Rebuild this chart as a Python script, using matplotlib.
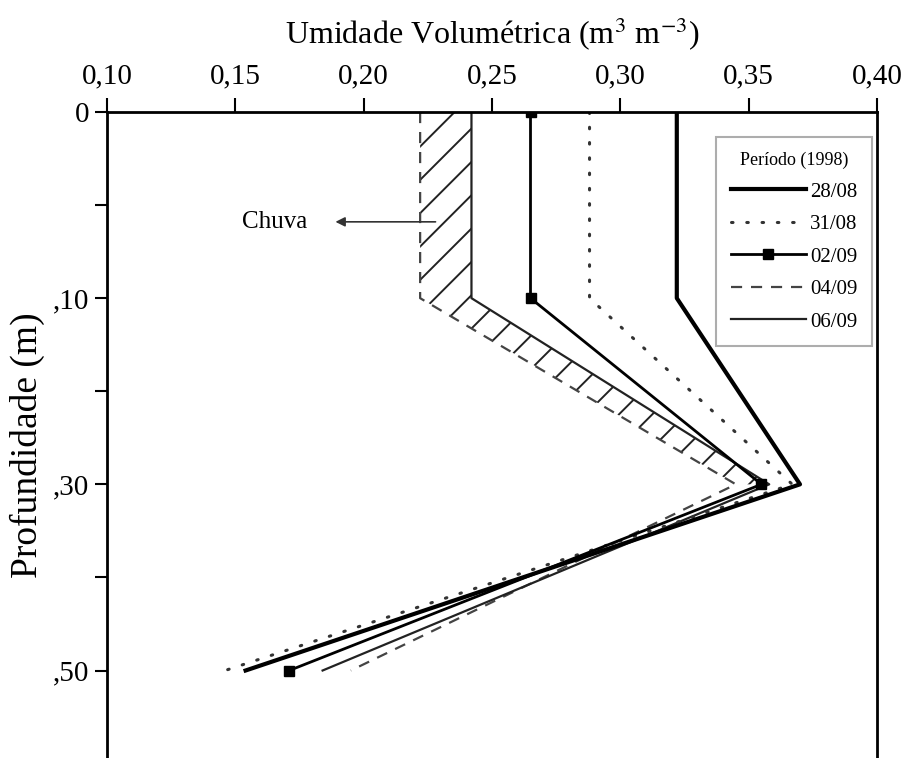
import matplotlib
matplotlib.use("Agg")
import matplotlib.pyplot as plt
from matplotlib.ticker import FixedLocator

plt.rcParams['font.family'] = ['Liberation Serif', 'DejaVu Serif']
plt.rcParams['mathtext.fontset'] = 'stix'
plt.rcParams['hatch.linewidth'] = 1.4

# ---- data ----
depth_labels = ["0", ",10", ",30", ",50"]
x_ticks = [0.10, 0.15, 0.20, 0.25, 0.30, 0.35, 0.40]
x_tick_labels = ["0,10", "0,15", "0,20", "0,25", "0,30", "0,35", "0,40"]
periods = ["28/08", "31/08", "02/09", "04/09", "06/09"]
s_2808 = [0.322, 0.322, 0.370, 0.154]
s_3108 = [0.288, 0.288, 0.367, 0.146]
s_0209 = [0.265, 0.265, 0.355, 0.171]
s_0409 = [0.222, 0.222, 0.345, 0.195]
s_0609 = [0.242, 0.242, 0.358, 0.184]
rain_depth_count = 3  # rain band covers 0 to ,30

pos = list(range(len(depth_labels)))

fig = plt.figure(figsize=(9.09, 7.58), dpi=100)
ax = fig.add_axes([107/909, 0.0, (877-107)/909, 1 - 112/758])

# rain hatch between 04/09 and 06/09
ax.fill_betweenx(pos[:rain_depth_count], s_0409[:rain_depth_count], s_0609[:rain_depth_count],
                 facecolor='none', edgecolor='#222222', hatch='/', linewidth=0)

ax.plot(s_0409, pos, color='#444444', lw=1.6, linestyle=(0, (5, 4)), label=periods[3])
ax.plot(s_0609, pos, color='#222222', lw=1.6, label=periods[4])
ax.plot(s_3108, pos, color='#333333', lw=2.2, linestyle=(0, (0.5, 4.5)),
        dash_capstyle='round', label=periods[1])
ax.plot(s_0209, pos, color='black', lw=2.0, marker='s', markersize=7, label=periods[2])
ax.plot(s_2808, pos, color='black', lw=3.0, label=periods[0])

ax.set_xlim(0.10, 0.40)
ax.set_ylim(3.47, 0)

ax.xaxis.tick_top()
ax.xaxis.set_label_position('top')
ax.set_xticks(x_ticks)
ax.set_xticklabels(x_tick_labels)
ax.set_yticks(pos)
ax.set_yticklabels(depth_labels)
ax.yaxis.set_minor_locator(FixedLocator([0.5, 1.5, 2.5]))

ax.tick_params(axis='x', which='major', direction='out', length=10, width=1.5,
               labelsize=21, pad=6)
ax.tick_params(axis='y', which='both', direction='out', length=9, width=1.5,
               labelsize=21, pad=4)
ax.tick_params(axis='y', which='minor', length=9)

for side in ['top', 'left', 'right']:
    ax.spines[side].set_linewidth(2.0)
ax.spines['bottom'].set_visible(False)

ax.set_xlabel("Umidade Volumétrica (m$^{3}$ m$^{-3}$)", fontsize=23, labelpad=14)
ax.set_ylabel("Profundidade (m)", fontsize=27)
ax.yaxis.set_label_coords(-0.080, 0.485)

# Chuva annotation: arrow pointing left from the rain band, text on the left
ax.annotate("", xy=(0.189, 0.59), xytext=(0.228, 0.59),
            arrowprops=dict(arrowstyle='-|>', color='#333333', lw=1.2,
                            mutation_scale=14, shrinkA=0, shrinkB=0))
ax.text(0.178, 0.59, "Chuva", fontsize=18, ha='right', va='center')

handles, labels = ax.get_legend_handles_labels()
order = [labels.index(p) for p in periods]
leg = ax.legend([handles[i] for i in order], [labels[i] for i in order],
                title="Período (1998)", loc='upper right',
                bbox_to_anchor=(0.9935, 0.961), borderaxespad=0,
                fontsize=15, title_fontsize=13,
                frameon=True, fancybox=False, edgecolor='#999999',
                handlelength=3.6, handletextpad=0.2, labelspacing=0.62,
                borderpad=0.7)
leg.get_frame().set_linewidth(1.5)

fig.savefig("out.png", dpi=100)
